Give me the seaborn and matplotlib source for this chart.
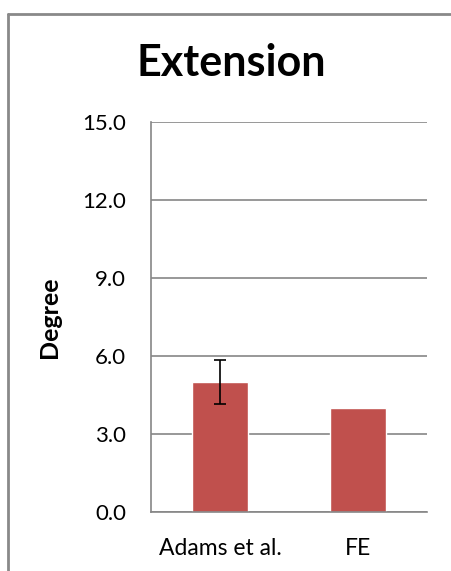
import matplotlib
matplotlib.use("Agg")
import matplotlib.pyplot as plt
import seaborn as sns
from matplotlib.lines import Line2D

# values
groups = ["Adams et al.", "FE"]
degree = [5.0, 4.0]
degree_err = [0.83, 0]
y_ticks = [0, 3, 6, 9, 12, 15]

sns.set_style("white")
plt.rcParams['font.family'] = ['Lato', 'DejaVu Sans']
plt.rcParams['text.color'] = 'black'
plt.rcParams['xtick.color'] = 'black'
plt.rcParams['ytick.color'] = 'black'
plt.rcParams['axes.labelcolor'] = 'black'

fig = plt.figure(figsize=(4.52, 5.71), dpi=100)
ax = fig.add_axes([0.334, 0.1033, 0.611, 0.683])

sns.barplot(x=groups, y=degree, color="#C0504D", saturation=1, width=0.41,
            errorbar=None, ax=ax)
ax.errorbar(x=[0], y=degree[:1], yerr=degree_err[:1], fmt="none",
            ecolor="black", elinewidth=1.2, capsize=4.3, capthick=1.2)

grid_c = "#868686"
ax.set_ylim(0, 15)
ax.set_xlim(-0.5, 1.5)
ax.set_yticks(y_ticks)
ax.set_yticklabels([f"{v:.1f}" for v in y_ticks])
ax.yaxis.grid(True, color=grid_c, linewidth=1.2)
ax.set_axisbelow(True)
for s in ["top", "right"]:
    ax.spines[s].set_visible(False)
for s in ["left", "bottom"]:
    ax.spines[s].set_color(grid_c)
    ax.spines[s].set_linewidth(1.2)

ax.set_xticks([-0.5, 0.5, 1.5], minor=False)
ax.set_xticklabels([])
ax.set_xticks([0, 1], minor=True)
ax.set_xticklabels(groups, minor=True)
ax.tick_params(axis="x", which="major", length=7, width=1.2, color=grid_c, direction="out")
ax.tick_params(axis="x", which="minor", length=0, pad=19, labelsize=16.5)
ax.tick_params(axis="y", length=7, width=1.2, color=grid_c, direction="out", labelsize=16, pad=11)

ax.set_ylabel("Degree", fontsize=18, fontweight="bold")
ax.yaxis.set_label_coords(-0.324, 0.5)

fig.text(231 / 452, 1 - 63 / 571, "Extension", ha="center", va="center", fontsize=31, fontweight="bold")

# outer chart border (left and top edges are inside the picture)
fy = 1 - 14 / 571
fx = 8 / 452
fig.add_artist(Line2D([fx, fx], [0.0, fy], transform=fig.transFigure, color="#898989", linewidth=2))
fig.add_artist(Line2D([fx, 1.0], [fy, fy], transform=fig.transFigure, color="#898989", linewidth=2))

fig.savefig("out.png", dpi=100)
